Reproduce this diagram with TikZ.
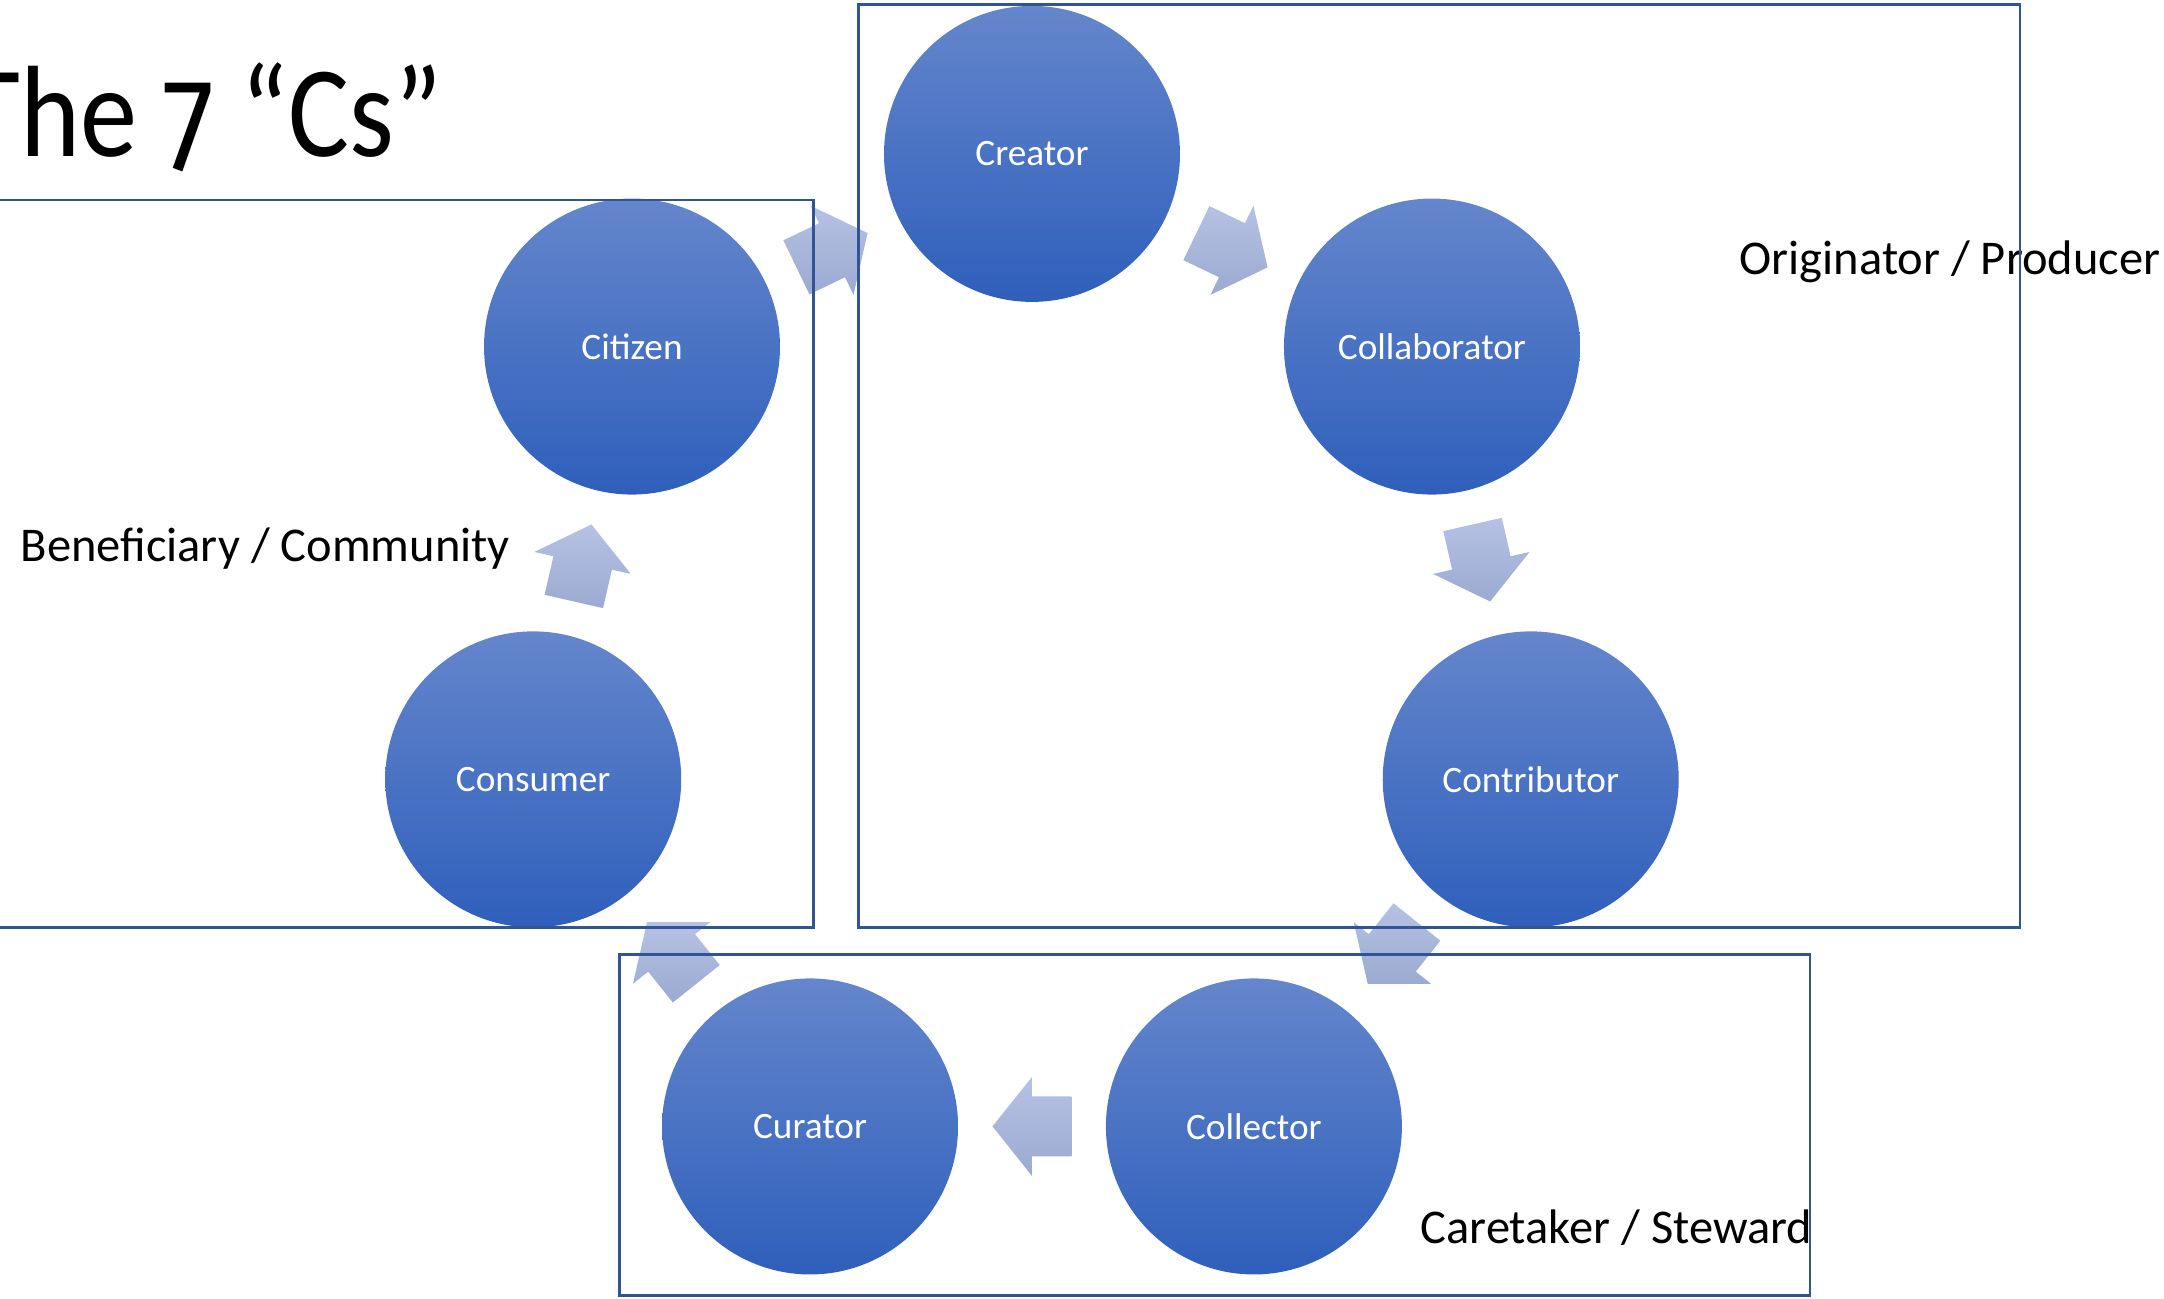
\documentclass[tikz,border=0pt]{standalone}
\usepackage{fontspec}
\setmainfont{Carlito}
\newfontfamily\titlefont[FakeStretch=0.88]{Carlito}
\newfontfamily\sevenfont[Numbers=OldStyle,FakeStretch=0.88]{Fira Sans}
\usepackage{tikz}
\usetikzlibrary{calc}

\definecolor{circtop}{RGB}{100,134,204}
\definecolor{circmid}{RGB}{68,114,196}
\definecolor{circbot}{RGB}{47,95,187}
\definecolor{arrowtop}{RGB}{182,194,228}
\definecolor{arrowbot}{RGB}{155,170,209}
\definecolor{boxblue}{RGB}{47,85,151}

\tikzset{
  cnode/.style={circle, minimum size=2.96cm, inner sep=0pt, top color=circtop,
    middle color=circmid, bottom color=circbot, text=white, font=\fontsize{10.6}{12}\selectfont},
  arrowfill/.style={top color=arrowtop, bottom color=arrowbot, draw=none},
  group/.style={draw=boxblue, line width=0.85pt},
  grouplabel/.style={anchor=base west, inner sep=0pt, font=\fontsize{13.8}{16}\selectfont}
}

% block arrow half way between two nodes, #3 = direction
\newcommand{\cyclearrow}[3]{%
  \coordinate (m) at ($(#1)!0.5!(#2)$);
  \shade[arrowfill] ($(m)+(#3:0.395)$) -- ($(m)+(#3+90:0.495)$) -- ($(m)+(#3+90:0.3)$)
    -- ($(m)+(#3+90:0.3)+(#3+180:0.395)$) -- ($(m)+(#3-90:0.3)+(#3+180:0.395)$)
    -- ($(m)+(#3-90:0.3)$) -- ($(m)+(#3-90:0.495)$) -- cycle;}

\begin{document}
\begin{tikzpicture}
\useasboundingbox (-10.32,-6.325) rectangle (11.32,6.655);
%\draw [help lines] grid (6,6);
\node[cnode] (C1) at (90:5.116) {Creator};
\node[cnode] (C2) at (38.57:5.116) {Collaborator};
\node[cnode] (C3) at (-12.86:5.116) {Contributor};
\node[cnode] (C4) at (-64.29:5.116) {Collector};
\node[cnode] (C5) at (-115.71:5.116) {Curator};
\node[cnode] (C6) at (-167.14:5.116) {Consumer};
\node[cnode] (C7) at (141.43:5.116) {Citizen};

\cyclearrow{C1}{C2}{-25.71}
\cyclearrow{C2}{C3}{-77.14}
\cyclearrow{C3}{C4}{-128.57}
\cyclearrow{C4}{C5}{180}
\cyclearrow{C5}{C6}{128.57}
\cyclearrow{C6}{C7}{77.14}
\cyclearrow{C7}{C1}{25.71}

\node[anchor=base east, inner sep=0pt, font=\titlefont\fontsize{37}{40}\selectfont] (title) at (-5.89,5.09) {The {\sevenfont 7} “Cs”};
\node[grouplabel] (ben) at (-10.12,1.04) {Beneficiary / Community};
\node[grouplabel] (ori) at (7.07,3.915) {Originator / Producer};
\node[grouplabel] (car) at (3.88,-5.775) {Caretaker / Steward};

\draw[group] (-10.5,4.655) rectangle (-2.18,-2.615);
\draw[group] (-1.73,6.608) rectangle (9.88,-2.615);
\draw[group] (-4.12,-2.885) rectangle (7.78,-6.295);

\end{tikzpicture}
\end{document}
